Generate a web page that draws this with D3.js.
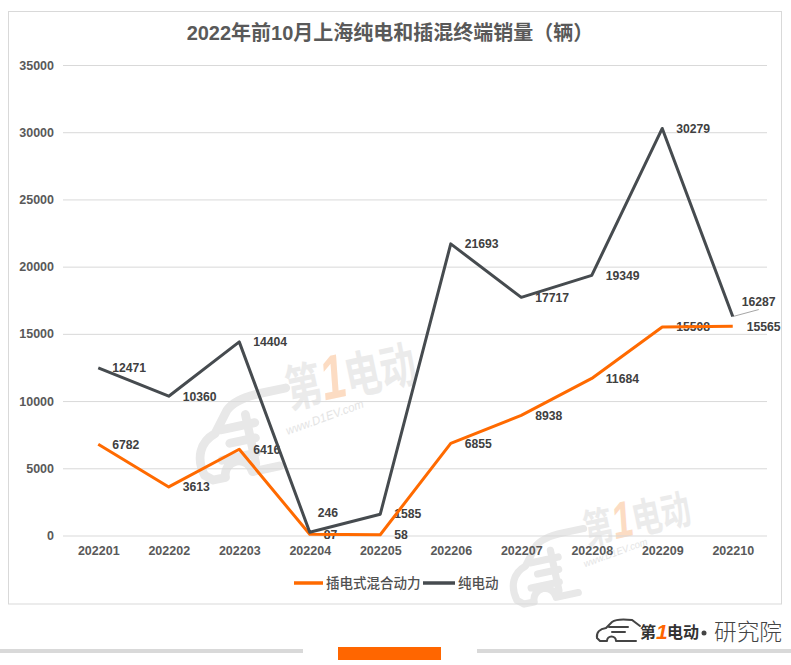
<!DOCTYPE html>
<html><head><meta charset="utf-8">
<script src="https://cdn.jsdelivr.net/npm/d3@7"></script>
<style>
html,body{margin:0;padding:0;background:#fff;}
svg{display:block;font-family:"Liberation Sans","Noto Sans CJK SC",sans-serif;}
</style></head>
<body>
<svg id="chart" width="791" height="665"></svg>
<script>
// ---- data ----
const categories = ["202201","202202","202203","202204","202205","202206","202207","202208","202209","202210"];
const phevValues = [6782,3613,6416,87,58,6855,8938,11684,15508,15565];
const bevValues  = [12471,10360,14404,246,1585,21693,17717,19349,30279,16287];
const yTickValues = [0,5000,10000,15000,20000,25000,30000,35000];
const seriesNames = ["插电式混合动力","纯电动"];
const titleText = "2022年前10月上海纯电和插混终端销量（辆）";

// ---- layout ----
const svg = d3.select("#chart");
const W = 791, H = 665;
const plot = {left:63, right:768, top:65, bottom:535.5};
const colors = {phev:"#FF6A00", bev:"#464B4F"};

svg.append("rect").attr("width",W).attr("height",H).attr("fill","#fff");

// watermarks
function watermark(ox, oy, s){
  const g = svg.append("g").attr("transform",`translate(${ox},${oy}) rotate(-12) scale(${s})`);
  g.append("path")
    .attr("transform","translate(-10,-8) scale(1.25)")
    .attr("d","M-70,45 C-74,30 -68,18 -55,14 L-42,-2 C-36,-8 -26,-10 -12,-10 L8,-10 M-70,45 L-64,50 L-54,50 M-32,50 L-10,50 M-54,50 A11,11 0 0,1 -32,50 M-50,12 L-22,12 M-45,24 L-24,24 M-54,36 L-26,36 M-28,4 L-28,44")
    .attr("fill","none").attr("stroke","#e8e8e8").attr("stroke-width",7).attr("stroke-linecap","round").attr("stroke-linejoin","round");
  const t = g.append("text").attr("x",0).attr("y",0).attr("font-size",50).attr("font-weight","bold")
    .attr("font-family","'Noto Sans CJK SC',sans-serif").attr("fill","#ebebeb")
    .attr("textLength",132).attr("lengthAdjust","spacingAndGlyphs");
  t.append("tspan").text("第");
  t.append("tspan").attr("fill","#fcdcc3").attr("font-family","'Liberation Sans',sans-serif").attr("font-style","italic").attr("font-size",62).text("1");
  t.append("tspan").text("电动");
  g.append("text").attr("transform","translate(-8,26) rotate(-8)").attr("font-size",12).attr("font-style","italic")
    .attr("fill","#e4e4e4").attr("textLength",82).attr("lengthAdjust","spacingAndGlyphs").text("www.D1EV.com");
}
watermark(290, 408, 1);
watermark(587, 545, 0.82);

// border
svg.append("rect").attr("x",8.5).attr("y",11.5).attr("width",773).attr("height",592.5)
  .attr("fill","none").attr("stroke","#d9d9d9").attr("stroke-width",1);

// title
svg.append("text").attr("x",390).attr("y",33).attr("dy","0.35em").attr("text-anchor","middle")
  .attr("font-size",20).attr("font-weight","bold").attr("fill","#595959").text(titleText);

// scales
const x = d3.scalePoint().domain(categories).range([plot.left, plot.right]).padding(0.5);
const y = d3.scaleLinear().domain([0,35000]).range([plot.bottom, plot.top]);

// y axis + gridlines
const yAxis = svg.append("g").attr("transform",`translate(${plot.left},0)`)
  .call(d3.axisLeft(y).tickValues(yTickValues).tickFormat(d3.format("d")).tickSize(-(767-plot.left)).tickPadding(9));
yAxis.select(".domain").remove();
yAxis.selectAll(".tick line").attr("stroke","#d9d9d9").attr("stroke-width",1);
yAxis.selectAll(".tick text").attr("fill","#595959").attr("font-size",12.5).attr("font-weight","bold")
  .attr("font-family","'Liberation Sans',sans-serif");

// x axis
const xAxis = svg.append("g").attr("transform",`translate(0,${plot.bottom})`)
  .call(d3.axisBottom(x).tickSize(0).tickPadding(11));
xAxis.select(".domain").remove();
xAxis.selectAll(".tick text").attr("fill","#595959").attr("font-size",12.5).attr("font-weight","bold")
  .attr("font-family","'Liberation Sans',sans-serif");

// data labels
const labelOffsets = {"bev-3":[8,-19], "bev-9":[9,-15]};
function drawLabels(vals, key){
  const g = svg.append("g");
  vals.forEach((v,i)=>{
    const off = labelOffsets[key+"-"+i] || [14,0];
    const px = x(categories[i]), py = y(v);
    if (key==="bev" && i===9){
      g.append("line").attr("x1",px).attr("y1",py).attr("x2",px+26).attr("y2",py-7)
        .attr("stroke","#a6a6a6").attr("stroke-width",1);
    }
    g.append("text").attr("x",px+off[0]).attr("y",py+off[1]).attr("dy","0.35em")
      .attr("font-size",12.2).attr("font-weight","bold").attr("fill","#404040").attr("font-family","'Liberation Sans',sans-serif")
      .text(v);
  });
}
drawLabels(bevValues,"bev");
drawLabels(phevValues,"phev");

// lines
const line = d3.line().x((d,i)=>x(categories[i])).y(d=>y(d));
svg.append("path").datum(phevValues).attr("d",line).attr("fill","none")
  .attr("stroke",colors.phev).attr("stroke-width",3).attr("stroke-linejoin","round");
svg.append("path").datum(bevValues).attr("d",line).attr("fill","none")
  .attr("stroke",colors.bev).attr("stroke-width",3).attr("stroke-linejoin","round");

// legend
const legend = svg.append("g").attr("transform","translate(0,583)");
const legItems = [{name:seriesNames[0],color:colors.phev,x:294,w:29},{name:seriesNames[1],color:colors.bev,x:423,w:32}];
legItems.forEach(it=>{
  legend.append("line").attr("x1",it.x).attr("x2",it.x+it.w).attr("y1",0).attr("y2",0)
    .attr("stroke",it.color).attr("stroke-width",3.5);
  legend.append("text").attr("x",it.x+it.w+3).attr("y",0).attr("dy","0.35em").attr("font-size",13.5)
    .attr("fill","#505050").attr("font-family","'Noto Sans CJK SC',sans-serif").attr("font-weight",500).text(it.name);
});

// footer
svg.append("rect").attr("x",0).attr("y",649).attr("width",303).attr("height",4).attr("fill","#d9d9d9");
svg.append("rect").attr("x",477).attr("y",649).attr("width",314).attr("height",4).attr("fill","#d9d9d9");
svg.append("rect").attr("x",338).attr("y",647).attr("width",103).attr("height",13).attr("fill","#FF6600");

// logo
const logo = svg.append("g");
logo.append("path")
  .attr("d","M597,638 C596,632 600,629 606,628 L612,622 C616,619 624,619 632,620 L640,626 M597,638 L600,641 L607,641 M616,641 L636,641 M607,641 A4.5,4.5 0 0,1 616,641 M609,627 L628,627 M612,632 L625,632")
  .attr("fill","none").attr("stroke","#444").attr("stroke-width",2).attr("stroke-linecap","round");
const logoFont = "'Noto Sans CJK SC',sans-serif";
logo.append("text").attr("x",640).attr("y",632).attr("dy","0.35em").attr("font-size",16)
  .attr("font-weight","bold").attr("font-family",logoFont).attr("fill","#333").text("第");
logo.append("text").attr("x",656).attr("y",632).attr("dy","0.35em").attr("font-size",21)
  .attr("font-weight","bold").attr("font-style","italic").attr("font-family","'Liberation Sans',sans-serif").attr("fill","#FF6600").text("1");
logo.append("text").attr("x",667).attr("y",632).attr("dy","0.35em").attr("font-size",16)
  .attr("font-weight","bold").attr("font-family",logoFont).attr("fill","#333").text("电动");
logo.append("circle").attr("cx",704).attr("cy",633).attr("r",2.5).attr("fill","#444");
logo.append("text").attr("x",714).attr("y",632).attr("dy","0.35em").attr("font-size",23)
  .attr("font-family",logoFont).attr("font-weight",300).attr("fill","#444")
  .attr("textLength",68).attr("lengthAdjust","spacingAndGlyphs").text("研究院");
</script>
</body></html>
